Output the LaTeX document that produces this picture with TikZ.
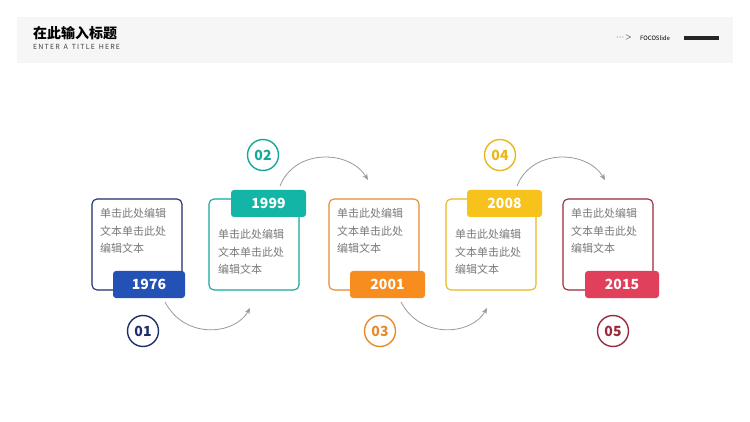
\documentclass[tikz,border=0pt]{standalone}
\usepackage{fontspec}
\setmainfont{Noto Sans CJK SC}
\usetikzlibrary{arrows.meta}
\definecolor{cA}{HTML}{1C2E6B}\definecolor{fA}{HTML}{2351B5}
\definecolor{cB}{HTML}{13A89A}\definecolor{fB}{HTML}{13B5A6}
\definecolor{cC}{HTML}{E68A2A}\definecolor{fC}{HTML}{F78C1F}
\definecolor{cD}{HTML}{E8B81A}\definecolor{fD}{HTML}{F7C21B}
\definecolor{cE}{HTML}{9B2A3C}\definecolor{fE}{HTML}{E0405A}
\definecolor{txt}{HTML}{7A7A7A}
\tikzset{
 card/.style={draw=#1, line width=1.1pt, rounded corners=5pt},
 tag/.style={fill=#1, rounded corners=3pt, text=white, font=\bfseries\fontsize{14}{14}\selectfont, inner sep=0pt},
 num/.style={circle, draw=#1, line width=1.4pt, minimum size=31pt, inner sep=0pt, text=#1, font=\bfseries\fontsize{14}{14}\selectfont},
 body/.style={text=txt, font=\fontsize{11}{17.5}\selectfont, align=left, anchor=north west, inner sep=0pt},
 arc/.style={draw=gray!80, line width=0.8pt, -{Stealth[length=6pt,width=5pt]}}
}
\begin{document}
\begin{tikzpicture}[x=1pt,y=-1pt]
\useasboundingbox (0,0) rectangle (750,422);
\fill[white] (0,0) rectangle (750,422);
\fill[gray!7] (17,17) rectangle (733,63);
\node[anchor=west, font=\bfseries\fontsize{14}{14}\selectfont, inner sep=0pt] (title) at (33,33) {在此输入标题};
\node[anchor=west, font=\fontsize{7}{7}\selectfont, inner sep=0pt, text=black!75] (sub) at (33,47) {E\,N\,T\,E\,R\, \,A\, \,T\,I\,T\,L\,E\, \,H\,E\,R\,E};
\node[inner sep=0pt, font=\fontsize{8}{8}\selectfont] (dots) at (624,38) {$\cdot\!\cdot\!\cdot\!>$};
\node[anchor=west, inner sep=0pt, font=\fontsize{6}{6}\selectfont] (brand) at (640,38) {FOCOSlide};
\fill[black!85] (684,36) rectangle (719,40);
\foreach \x/\c in {92/cA,209/cB,329/cC,446/cD,563/cE}{\draw[card=\c] (\x,199) rectangle ++(90,91);}
\node[body] (t1) at (100,208) {单击此处编辑\\文本单击此处\\编辑文本};
\node[body] (t2) at (218,229) {单击此处编辑\\文本单击此处\\编辑文本};
\node[body] (t3) at (337,208) {单击此处编辑\\文本单击此处\\编辑文本};
\node[body] (t4) at (455,229) {单击此处编辑\\文本单击此处\\编辑文本};
\node[body] (t5) at (571,208) {单击此处编辑\\文本单击此处\\编辑文本};
\node[tag=fA, minimum width=72pt, minimum height=27pt] (y1) at (149,284.5) {1976};
\node[tag=fB, minimum width=75pt, minimum height=27pt] (y2) at (268.5,203.5) {1999};
\node[tag=fC, minimum width=75pt, minimum height=27pt] (y3) at (387.5,284.5) {2001};
\node[tag=fD, minimum width=75pt, minimum height=27pt] (y4) at (504.5,203.5) {2008};
\node[tag=fE, minimum width=74pt, minimum height=27pt] (y5) at (622,284.5) {2015};
\node[num=cA] (n1) at (143,331) {01};
\node[num=cB] (n2) at (263,155) {02};
\node[num=cC] (n3) at (380,331) {03};
\node[num=cD] (n4) at (500,155) {04};
\node[num=cE] (n5) at (613,331) {05};
\coordinate (a1s) at (165,302); \coordinate (a1e) at (250,308);
\coordinate (a2s) at (280,186); \coordinate (a2e) at (368,180);
\coordinate (a3s) at (401,302); \coordinate (a3e) at (487,308);
\coordinate (a4s) at (517,186); \coordinate (a4e) at (605,180);
\draw[arc] (a1s) .. controls (185,340) and (235,335) .. (a1e);
\draw[arc] (a2s) .. controls (295,148) and (350,150) .. (a2e);
\draw[arc] (a3s) .. controls (421,340) and (472,335) .. (a3e);
\draw[arc] (a4s) .. controls (532,148) and (587,150) .. (a4e);
\end{tikzpicture}
\end{document}
